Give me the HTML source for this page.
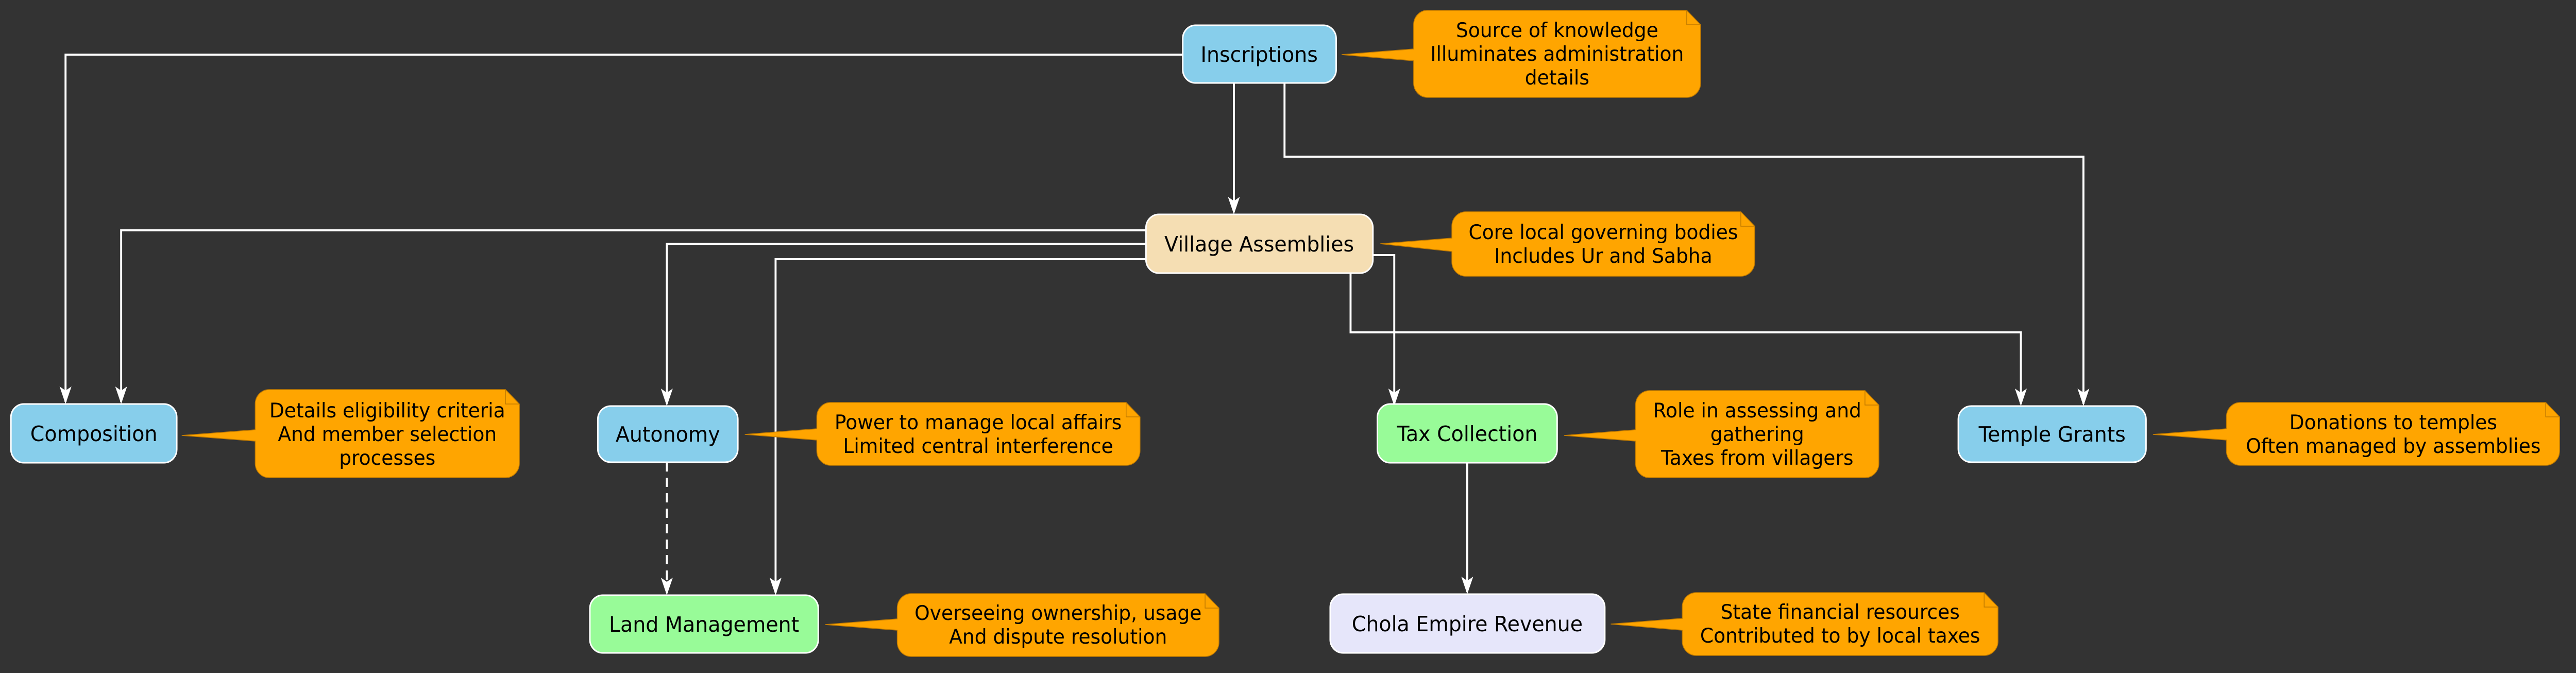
<!DOCTYPE html>
<html><head><meta charset="utf-8"><style>
html,body{margin:0;padding:0;background:#333333;overflow:hidden;width:100%;height:100%;}
svg{display:block;width:100vw;height:100vh;}
text{font-family:"DejaVu Sans","Liberation Sans",sans-serif;fill:#000;}
.n{font-size:41px;}
.t{font-size:39px;}
</style></head><body>
<svg viewBox="0 0 5188 1306" preserveAspectRatio="none" xmlns="http://www.w3.org/2000/svg">
<rect width="5188" height="1306" fill="#333333"/>
<g fill="none" stroke="#ffffff" stroke-width="4">
<polyline points="2382,106 132,106 132,780"/>
<polyline points="2485,162 2485,412"/>
<polyline points="2587,162 2587,304 4196,304 4196,784"/>
<polyline points="2308,447 244,447 244,780"/>
<polyline points="2308,473 1343,473 1343,784"/>
<polyline points="2308,503 1562,503 1562,1151"/>
<polyline points="2765,495 2808,495 2808,784"/>
<polyline points="2720,530 2720,645 4070,645 4070,784"/>
<polyline points="1343,897 1343,1151" stroke-dasharray="18,12"/>
<polyline points="2955,898 2955,1149"/>
</g>
<g fill="#ffffff">
<path d="M132,784 l-12,-34 l12,8 l12,-8z"/>
<path d="M2485,416 l-12,-34 l12,8 l12,-8z"/>
<path d="M4196,788 l-12,-34 l12,8 l12,-8z"/>
<path d="M244,784 l-12,-34 l12,8 l12,-8z"/>
<path d="M1343,788 l-12,-34 l12,8 l12,-8z"/>
<path d="M1562,1155 l-12,-34 l12,8 l12,-8z"/>
<path d="M2808,788 l-12,-34 l12,8 l12,-8z"/>
<path d="M4070,788 l-12,-34 l12,8 l12,-8z"/>
<path d="M1343,1155 l-12,-34 l12,8 l12,-8z"/>
<path d="M2955,1153 l-12,-34 l12,8 l12,-8z"/>
</g>
<g stroke="#ffffff" stroke-width="3">
<rect x="2382" y="49" width="309" height="112" rx="26" fill="#87CEEB"/>
<rect x="2308" y="416" width="457" height="114" rx="26" fill="#F5DEB3"/>
<rect x="22" y="784" width="334" height="114" rx="26" fill="#87CEEB"/>
<rect x="1204" y="788" width="282" height="109" rx="26" fill="#87CEEB"/>
<rect x="2774" y="784" width="362" height="114" rx="26" fill="#98FB98"/>
<rect x="3944" y="788" width="378" height="109" rx="26" fill="#87CEEB"/>
<rect x="1188" y="1155" width="460" height="112" rx="26" fill="#98FB98"/>
<rect x="2679" y="1153" width="553" height="114" rx="26" fill="#E6E6FA"/>
</g>
<g class="n" text-anchor="middle">
<text x="2536" y="120">Inscriptions</text>
<text x="2536" y="488">Village Assemblies</text>
<text x="189" y="856">Composition</text>
<text x="1345" y="857">Autonomy</text>
<text x="2955" y="856">Tax Collection</text>
<text x="4133" y="857">Temple Grants</text>
<text x="1418" y="1226">Land Management</text>
<text x="2955" y="1225">Chola Empire Revenue</text>
</g>
<g fill="#FFA500" stroke="#c07a00" stroke-width="1.5">
<path d="M2875,20 H3397 L3425,48 V161 a28,28 0 0 1 -28,28 H2875 a28,28 0 0 1 -28,-28 V118 L2702,106 L2847,95 V48 a28,28 0 0 1 28,-28z"/>
<path d="M2952,411 H3506 L3534,439 V508 a28,28 0 0 1 -28,28 H2952 a28,28 0 0 1 -28,-28 V488 L2780,473 L2924,462 V439 a28,28 0 0 1 28,-28z"/>
<path d="M542,756 H1018 L1046,784 V899 a28,28 0 0 1 -28,28 H542 a28,28 0 0 1 -28,-28 V856 L366,845 L514,834 V784 a28,28 0 0 1 28,-28z"/>
<path d="M1673,781 H2268 L2296,809 V875 a28,28 0 0 1 -28,28 H1673 a28,28 0 0 1 -28,-28 V854 L1500,843 L1645,832 V809 a28,28 0 0 1 28,-28z"/>
<path d="M3322,758 H3756 L3784,786 V899 a28,28 0 0 1 -28,28 H3322 a28,28 0 0 1 -28,-28 V856 L3150,845 L3294,834 V786 a28,28 0 0 1 28,-28z"/>
<path d="M4512,781 H5127 L5155,809 V875 a28,28 0 0 1 -28,28 H4512 a28,28 0 0 1 -28,-28 V854 L4336,843 L4484,832 V809 a28,28 0 0 1 28,-28z"/>
<path d="M1835,1152 H2427 L2455,1180 V1246 a28,28 0 0 1 -28,28 H1835 a28,28 0 0 1 -28,-28 V1223 L1662,1212 L1807,1201 V1180 a28,28 0 0 1 28,-28z"/>
<path d="M3416,1150 H3996 L4024,1178 V1244 a28,28 0 0 1 -28,28 H3416 a28,28 0 0 1 -28,-28 V1223 L3244,1211 L3388,1200 V1178 a28,28 0 0 1 28,-28z"/>
</g>
<g fill="none" stroke="#c07a00" stroke-width="1.5">
<path d="M3397,20 V48 H3425"/><path d="M3506,411 V439 H3534"/><path d="M1018,756 V784 H1046"/>
<path d="M2268,781 V809 H2296"/><path d="M3756,758 V786 H3784"/><path d="M5127,781 V809 H5155"/>
<path d="M2427,1152 V1180 H2455"/><path d="M3996,1150 V1178 H4024"/>
</g>
<g class="t" text-anchor="middle">
<text x="3136" y="72">Source of knowledge</text>
<text x="3136" y="118">Illuminates administration</text>
<text x="3136" y="164">details</text>
<text x="3229" y="464">Core local governing bodies</text>
<text x="3229" y="510">Includes Ur and Sabha</text>
<text x="780" y="810">Details eligibility criteria</text>
<text x="780" y="856">And member selection</text>
<text x="780" y="902">processes</text>
<text x="1970" y="833">Power to manage local affairs</text>
<text x="1970" y="879">Limited central interference</text>
<text x="3539" y="810">Role in assessing and</text>
<text x="3539" y="856">gathering</text>
<text x="3539" y="902">Taxes from villagers</text>
<text x="4820" y="833">Donations to temples</text>
<text x="4820" y="879">Often managed by assemblies</text>
<text x="2131" y="1203">Overseeing ownership, usage</text>
<text x="2131" y="1249">And dispute resolution</text>
<text x="3706" y="1201">State financial resources</text>
<text x="3706" y="1247">Contributed to by local taxes</text>
</g>
</svg>
</body></html>
